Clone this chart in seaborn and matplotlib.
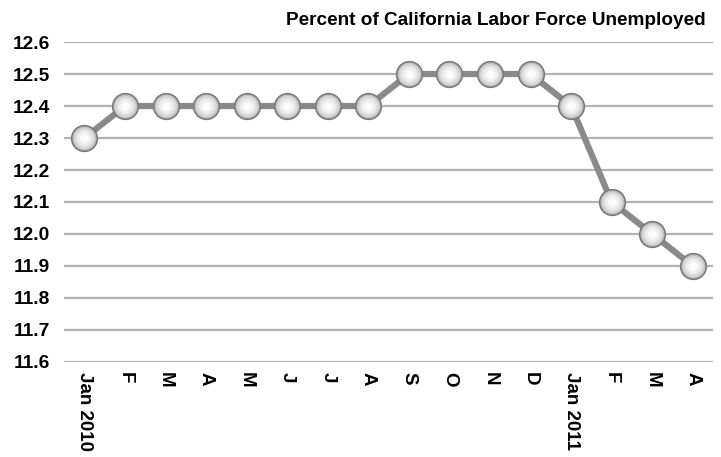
import matplotlib.pyplot as plt
import pandas as pd
import seaborn as sns

# Dados: taxa de desemprego da Califórnia (jan/2010 - abr/2011)
months = ["Jan 2010", "F", "M", "A", "M", "J", "J", "A",
          "S", "O", "N", "D", "Jan 2011", "F", "M", "A"]
rate = [12.3, 12.4, 12.4, 12.4, 12.4, 12.4, 12.4, 12.4,
        12.5, 12.5, 12.5, 12.5, 12.4, 12.1, 12.0, 11.9]
y_ticks = [11.6, 11.7, 11.8, 11.9, 12.0, 12.1, 12.2, 12.3, 12.4, 12.5, 12.6]

df = pd.DataFrame({"pos": range(len(months)), "rate": rate})

sns.set_theme(style="white")
plt.rcParams["font.family"] = ["Liberation Sans", "DejaVu Sans"]
plt.rcParams["text.color"] = "black"
plt.rcParams["xtick.color"] = "black"
plt.rcParams["ytick.color"] = "black"

fig = plt.figure(figsize=(7.21, 4.57), dpi=100)
ax = fig.add_axes([0.089, 0.208, 0.9, 0.7])

sns.lineplot(data=df, x="pos", y="rate", color="#8a8a8a", linewidth=4.5,
             ax=ax, zorder=3)

# marcadores com aparência de esfera (camadas sobrepostas)
sns.scatterplot(data=df, x="pos", y="rate", s=340, color="#c2c2c2",
                edgecolor="#7a7a7a", linewidth=1.2, ax=ax, zorder=4)
sns.scatterplot(data=df, x="pos", y="rate", s=220, color="#dcdcdc",
                linewidth=0, ax=ax, zorder=5)
sns.scatterplot(data=df, x="pos", y="rate", s=120, color="#eeeeee",
                linewidth=0, ax=ax, zorder=6)
sns.scatterplot(data=df, x="pos", y="rate", s=40, color="#fcfcfc",
                linewidth=0, ax=ax, zorder=7)

ax.set_xlim(-0.5, len(months) - 0.5)
ax.set_ylim(11.6, 12.6)
ax.set_yticks(y_ticks)
ax.set_yticklabels([f"{v:.1f}" for v in y_ticks], fontsize=13.8,
                   fontweight="bold")
ax.set_xticks(range(len(months)))
ax.set_xticklabels(months, rotation=-90, fontsize=13.5, fontweight="bold",
                   va="top", ha="center")
ax.tick_params(axis="both", length=0)
ax.tick_params(axis="x", pad=7)
ax.tick_params(axis="y", pad=10)

ax.grid(axis="y", color="#b4b4b4", linewidth=1.6, zorder=0)
ax.set_axisbelow(True)
for s in ax.spines.values():
    s.set_visible(False)

ax.set_xlabel("")
ax.set_ylabel("")

fig.text(0.978, 0.955, "Percent of California Labor Force Unemployed",
         ha="right", va="center", fontsize=13.7, fontweight="bold")

fig.savefig("out.png", dpi=100, facecolor="white")
plt.close(fig)
